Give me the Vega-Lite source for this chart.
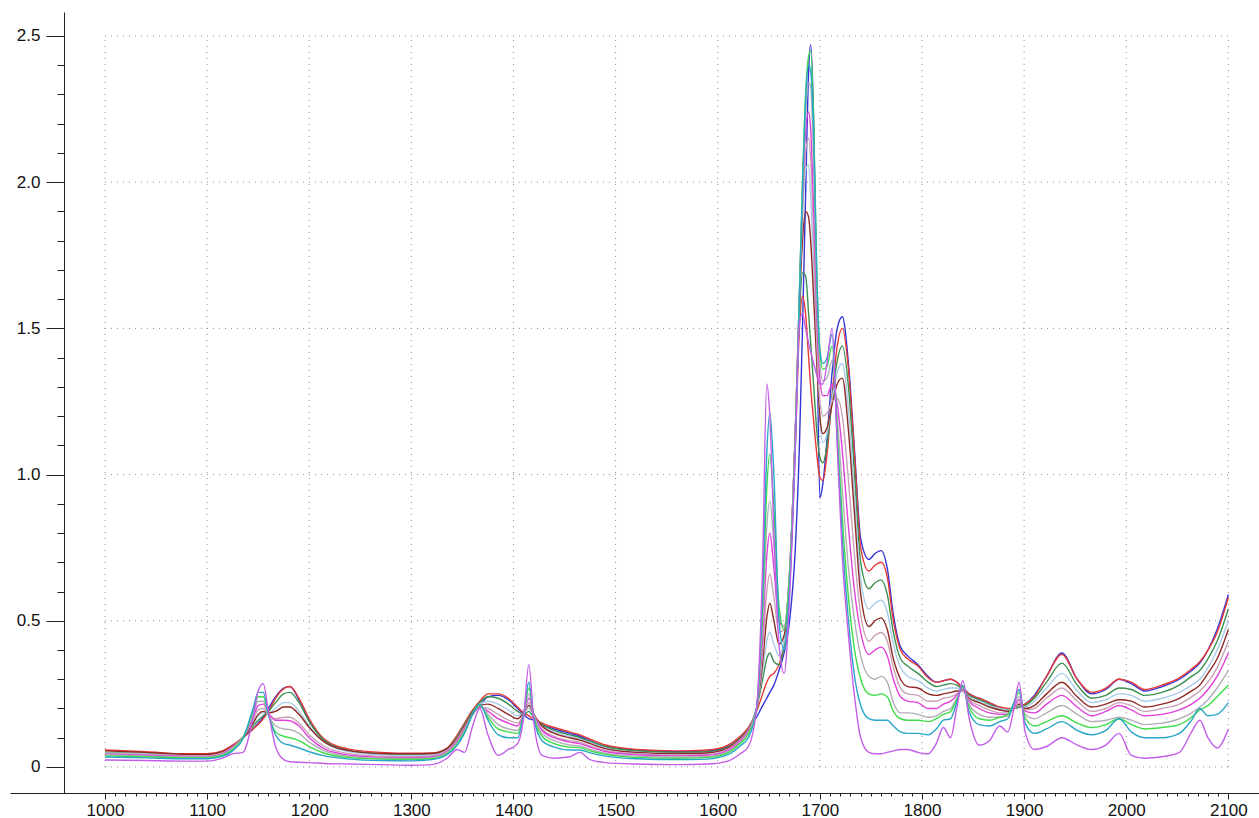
{
"$schema":"https://vega.github.io/schema/vega-lite/v6.json",
"width":1249,"height":781,"autosize":"none",
"padding":{"left":10,"top":12,"right":0,"bottom":25},
"background":"white",
"config":{"view":{"stroke":null},"axis":{"labelFont":"Liberation Sans","labelFontSize":17,"labelColor":"#111","tickColor":"#222","domainColor":"#222","domainWidth":1,"tickWidth":1,"grid":false}},
"resolve":{"axis":{"x":"independent","y":"independent"}},
"layer":[
{"data":{"values":[{"gx":1000},{"gx":1100},{"gx":1200},{"gx":1300},{"gx":1400},{"gx":1500},{"gx":1600},{"gx":1700},{"gx":1800},{"gx":1900},{"gx":2000},{"gx":2100}]},
"mark":{"type":"rule","stroke":"#8a8a8a","strokeDash":[1,5],"strokeWidth":1},
"encoding":{
"x":{"field":"gx","type":"quantitative","scale":{"domain":[907,2130],"nice":false,"zero":false},"axis":{"orient":"bottom","values":[1000,1010,1020,1030,1040,1050,1060,1070,1080,1090,1100,1110,1120,1130,1140,1150,1160,1170,1180,1190,1200,1210,1220,1230,1240,1250,1260,1270,1280,1290,1300,1310,1320,1330,1340,1350,1360,1370,1380,1390,1400,1410,1420,1430,1440,1450,1460,1470,1480,1490,1500,1510,1520,1530,1540,1550,1560,1570,1580,1590,1600,1610,1620,1630,1640,1650,1660,1670,1680,1690,1700,1710,1720,1730,1740,1750,1760,1770,1780,1790,1800,1810,1820,1830,1840,1850,1860,1870,1880,1890,1900,1910,1920,1930,1940,1950,1960,1970,1980,1990,2000,2010,2020,2030,2040,2050,2060,2070,2080,2090,2100],"labels":false,"domain":false,"tickSize":3,"title":null}},
"y":{"datum":0,"type":"quantitative","scale":{"domain":[-0.089,2.582],"nice":false,"zero":false},"axis":null},
"y2":{"datum":2.5}}},
{"data":{"values":[{"gy":0},{"gy":0.5},{"gy":1},{"gy":1.5},{"gy":2},{"gy":2.5}]},
"mark":{"type":"rule","stroke":"#8a8a8a","strokeDash":[1,5],"strokeWidth":1},
"encoding":{
"y":{"field":"gy","type":"quantitative","scale":{"domain":[-0.089,2.582],"nice":false,"zero":false},"axis":{"orient":"left","offset":-54,"values":[0,0.1,0.2,0.3,0.4,0.5,0.6,0.7,0.8,0.9,1,1.1,1.2,1.3,1.4,1.5,1.6,1.7,1.8,1.9,2,2.1,2.2,2.3,2.4,2.5],"labels":false,"domain":false,"tickSize":7,"title":null}},
"x":{"datum":1000,"type":"quantitative","scale":{"domain":[907,2130],"nice":false,"zero":false},"axis":null},
"x2":{"datum":2100}}},
{"data":{"values":[
{"x":1000,"N":0.045,"R":0.058,"DG":0.05,"LB":0.048,"BR":0.055,"PG":0.046,"M":0.044,"GR":0.042,"G":0.038,"T":0.034,"V":0.024},
{"x":1040,"N":0.04,"R":0.052,"DG":0.046,"LB":0.045,"BR":0.05,"PG":0.043,"M":0.04,"GR":0.038,"G":0.035,"T":0.031,"V":0.022},
{"x":1080,"N":0.035,"R":0.045,"DG":0.04,"LB":0.04,"BR":0.043,"PG":0.038,"M":0.036,"GR":0.034,"G":0.031,"T":0.028,"V":0.02},
{"x":1100,"N":0.035,"R":0.045,"DG":0.04,"LB":0.04,"BR":0.043,"PG":0.038,"M":0.036,"GR":0.034,"G":0.031,"T":0.028,"V":0.02},
{"x":1115,"N":0.05,"R":0.055,"DG":0.05,"LB":0.05,"BR":0.052,"PG":0.048,"M":0.045,"GR":0.043,"G":0.04,"T":0.036,"V":0.03},
{"x":1125,"N":0.07,"R":0.075,"DG":0.07,"LB":0.07,"BR":0.072,"PG":0.07,"M":0.068,"GR":0.065,"G":0.06,"T":0.055,"V":0.045},
{"x":1135,"N":0.1,"R":0.1,"DG":0.1,"LB":0.1,"BR":0.1,"PG":0.1,"M":0.1,"GR":0.1,"G":0.1,"T":0.095,"V":0.05},
{"x":1145,"N":0.13,"R":0.13,"DG":0.14,"LB":0.15,"BR":0.15,"PG":0.16,"M":0.17,"GR":0.18,"G":0.19,"T":0.2,"V":0.17},
{"x":1150,"N":0.15,"R":0.145,"DG":0.16,"LB":0.175,"BR":0.18,"PG":0.195,"M":0.21,"GR":0.225,"G":0.24,"T":0.255,"V":0.26},
{"x":1155,"N":0.17,"R":0.165,"DG":0.175,"LB":0.185,"BR":0.19,"PG":0.2,"M":0.215,"GR":0.225,"G":0.24,"T":0.255,"V":0.285},
{"x":1160,"N":0.2,"R":0.19,"DG":0.19,"LB":0.185,"BR":0.185,"PG":0.18,"M":0.185,"GR":0.18,"G":0.18,"T":0.18,"V":0.19},
{"x":1167,"N":0.24,"R":0.235,"DG":0.22,"LB":0.2,"BR":0.19,"PG":0.165,"M":0.16,"GR":0.14,"G":0.12,"T":0.11,"V":0.07},
{"x":1175,"N":0.27,"R":0.268,"DG":0.25,"LB":0.22,"BR":0.205,"PG":0.17,"M":0.16,"GR":0.13,"G":0.105,"T":0.08,"V":0.025},
{"x":1181,"N":0.275,"R":0.275,"DG":0.255,"LB":0.22,"BR":0.205,"PG":0.17,"M":0.158,"GR":0.128,"G":0.1,"T":0.075,"V":0.018},
{"x":1190,"N":0.23,"R":0.235,"DG":0.22,"LB":0.19,"BR":0.18,"PG":0.15,"M":0.14,"GR":0.115,"G":0.09,"T":0.065,"V":0.016},
{"x":1200,"N":0.16,"R":0.165,"DG":0.155,"LB":0.14,"BR":0.135,"PG":0.11,"M":0.1,"GR":0.085,"G":0.07,"T":0.052,"V":0.015},
{"x":1215,"N":0.09,"R":0.095,"DG":0.09,"LB":0.085,"BR":0.085,"PG":0.07,"M":0.062,"GR":0.055,"G":0.047,"T":0.038,"V":0.012},
{"x":1240,"N":0.055,"R":0.06,"DG":0.055,"LB":0.052,"BR":0.055,"PG":0.045,"M":0.04,"GR":0.036,"G":0.032,"T":0.027,"V":0.01},
{"x":1270,"N":0.045,"R":0.05,"DG":0.045,"LB":0.042,"BR":0.046,"PG":0.037,"M":0.033,"GR":0.03,"G":0.027,"T":0.022,"V":0.008},
{"x":1300,"N":0.042,"R":0.047,"DG":0.043,"LB":0.04,"BR":0.045,"PG":0.035,"M":0.032,"GR":0.029,"G":0.026,"T":0.021,"V":0.006},
{"x":1320,"N":0.045,"R":0.048,"DG":0.045,"LB":0.042,"BR":0.046,"PG":0.038,"M":0.035,"GR":0.032,"G":0.029,"T":0.025,"V":0.008},
{"x":1335,"N":0.06,"R":0.065,"DG":0.062,"LB":0.06,"BR":0.063,"PG":0.056,"M":0.053,"GR":0.05,"G":0.046,"T":0.042,"V":0.03},
{"x":1345,"N":0.1,"R":0.11,"DG":0.105,"LB":0.1,"BR":0.1,"PG":0.095,"M":0.09,"GR":0.085,"G":0.08,"T":0.075,"V":0.06},
{"x":1352,"N":0.14,"R":0.15,"DG":0.145,"LB":0.14,"BR":0.14,"PG":0.135,"M":0.13,"GR":0.125,"G":0.12,"T":0.115,"V":0.05},
{"x":1360,"N":0.18,"R":0.195,"DG":0.19,"LB":0.185,"BR":0.185,"PG":0.18,"M":0.18,"GR":0.18,"G":0.18,"T":0.18,"V":0.14},
{"x":1367,"N":0.21,"R":0.225,"DG":0.22,"LB":0.215,"BR":0.21,"PG":0.205,"M":0.205,"GR":0.21,"G":0.21,"T":0.215,"V":0.2},
{"x":1375,"N":0.24,"R":0.25,"DG":0.24,"LB":0.225,"BR":0.215,"PG":0.2,"M":0.19,"GR":0.18,"G":0.17,"T":0.16,"V":0.11},
{"x":1385,"N":0.245,"R":0.25,"DG":0.235,"LB":0.215,"BR":0.2,"PG":0.18,"M":0.165,"GR":0.145,"G":0.13,"T":0.11,"V":0.04},
{"x":1395,"N":0.23,"R":0.235,"DG":0.215,"LB":0.195,"BR":0.18,"PG":0.16,"M":0.15,"GR":0.13,"G":0.12,"T":0.1,"V":0.06},
{"x":1404,"N":0.2,"R":0.205,"DG":0.19,"LB":0.175,"BR":0.165,"PG":0.15,"M":0.14,"GR":0.125,"G":0.115,"T":0.1,"V":0.08},
{"x":1410,"N":0.18,"R":0.185,"DG":0.18,"LB":0.185,"BR":0.185,"PG":0.18,"M":0.18,"GR":0.18,"G":0.18,"T":0.18,"V":0.17},
{"x":1415,"N":0.165,"R":0.175,"DG":0.19,"LB":0.2,"BR":0.21,"PG":0.22,"M":0.235,"GR":0.25,"G":0.27,"T":0.29,"V":0.35},
{"x":1420,"N":0.16,"R":0.165,"DG":0.17,"LB":0.175,"BR":0.18,"PG":0.18,"M":0.18,"GR":0.175,"G":0.17,"T":0.165,"V":0.15},
{"x":1428,"N":0.145,"R":0.15,"DG":0.145,"LB":0.14,"BR":0.14,"PG":0.13,"M":0.125,"GR":0.115,"G":0.105,"T":0.09,"V":0.04},
{"x":1440,"N":0.13,"R":0.135,"DG":0.125,"LB":0.12,"BR":0.115,"PG":0.105,"M":0.1,"GR":0.09,"G":0.08,"T":0.068,"V":0.03},
{"x":1455,"N":0.115,"R":0.12,"DG":0.11,"LB":0.105,"BR":0.1,"PG":0.09,"M":0.085,"GR":0.075,"G":0.068,"T":0.058,"V":0.035},
{"x":1465,"N":0.105,"R":0.11,"DG":0.1,"LB":0.095,"BR":0.092,"PG":0.085,"M":0.08,"GR":0.072,"G":0.066,"T":0.058,"V":0.05},
{"x":1475,"N":0.09,"R":0.095,"DG":0.088,"LB":0.083,"BR":0.08,"PG":0.072,"M":0.068,"GR":0.06,"G":0.055,"T":0.048,"V":0.025},
{"x":1490,"N":0.07,"R":0.075,"DG":0.07,"LB":0.065,"BR":0.063,"PG":0.057,"M":0.053,"GR":0.047,"G":0.043,"T":0.037,"V":0.015},
{"x":1520,"N":0.058,"R":0.06,"DG":0.055,"LB":0.05,"BR":0.05,"PG":0.045,"M":0.042,"GR":0.037,"G":0.033,"T":0.028,"V":0.01},
{"x":1560,"N":0.052,"R":0.055,"DG":0.05,"LB":0.046,"BR":0.046,"PG":0.041,"M":0.038,"GR":0.034,"G":0.03,"T":0.025,"V":0.008},
{"x":1590,"N":0.055,"R":0.058,"DG":0.052,"LB":0.048,"BR":0.048,"PG":0.043,"M":0.04,"GR":0.036,"G":0.032,"T":0.027,"V":0.01},
{"x":1610,"N":0.07,"R":0.075,"DG":0.068,"LB":0.065,"BR":0.065,"PG":0.06,"M":0.057,"GR":0.052,"G":0.048,"T":0.042,"V":0.02},
{"x":1622,"N":0.1,"R":0.105,"DG":0.1,"LB":0.098,"BR":0.098,"PG":0.094,"M":0.09,"GR":0.085,"G":0.08,"T":0.072,"V":0.045},
{"x":1630,"N":0.13,"R":0.135,"DG":0.13,"LB":0.128,"BR":0.128,"PG":0.125,"M":0.122,"GR":0.118,"G":0.112,"T":0.1,"V":0.07},
{"x":1638,"N":0.17,"R":0.19,"DG":0.2,"LB":0.2,"BR":0.2,"PG":0.2,"M":0.2,"GR":0.2,"G":0.2,"T":0.2,"V":0.2},
{"x":1644,"N":0.21,"R":0.25,"DG":0.3,"LB":0.33,"BR":0.36,"PG":0.4,"M":0.45,"GR":0.5,"G":0.55,"T":0.6,"V":0.7},
{"x":1648,"N":0.235,"R":0.29,"DG":0.37,"LB":0.43,"BR":0.51,"PG":0.6,"M":0.72,"GR":0.82,"G":0.95,"T":1.07,"V":1.31},
{"x":1651,"N":0.255,"R":0.31,"DG":0.39,"LB":0.46,"BR":0.56,"PG":0.66,"M":0.8,"GR":0.91,"G":1.07,"T":1.21,"V":1.2},
{"x":1655,"N":0.28,"R":0.32,"DG":0.36,"LB":0.42,"BR":0.5,"PG":0.58,"M":0.68,"GR":0.76,"G":0.88,"T":1.0,"V":0.8},
{"x":1660,"N":0.33,"R":0.35,"DG":0.35,"LB":0.38,"BR":0.42,"PG":0.46,"M":0.5,"GR":0.52,"G":0.55,"T":0.5,"V":0.42},
{"x":1665,"N":0.39,"R":0.42,"DG":0.42,"LB":0.43,"BR":0.45,"PG":0.47,"M":0.48,"GR":0.48,"G":0.47,"T":0.4,"V":0.32},
{"x":1670,"N":0.49,"R":0.6,"DG":0.62,"LB":0.62,"BR":0.63,"PG":0.64,"M":0.65,"GR":0.65,"G":0.64,"T":0.6,"V":0.55},
{"x":1676,"N":0.75,"R":1.1,"DG":1.15,"LB":1.15,"BR":1.15,"PG":1.15,"M":1.15,"GR":1.15,"G":1.13,"T":1.1,"V":1.1},
{"x":1680,"N":1.1,"R":1.5,"DG":1.55,"LB":1.6,"BR":1.58,"PG":1.6,"M":1.62,"GR":1.63,"G":1.62,"T":1.6,"V":1.52},
{"x":1683,"N":1.5,"R":1.61,"DG":1.69,"LB":1.88,"BR":1.8,"PG":1.9,"M":1.95,"GR":1.98,"G":2.0,"T":1.98,"V":1.55},
{"x":1686,"N":1.95,"R":1.55,"DG":1.68,"LB":2.04,"BR":1.9,"PG":2.1,"M":2.17,"GR":2.23,"G":2.3,"T":2.28,"V":1.5},
{"x":1689,"N":2.38,"R":1.4,"DG":1.55,"LB":2.06,"BR":1.88,"PG":2.15,"M":2.24,"GR":2.34,"G":2.43,"T":2.4,"V":1.45},
{"x":1691,"N":2.47,"R":1.3,"DG":1.45,"LB":1.95,"BR":1.8,"PG":2.08,"M":2.18,"GR":2.33,"G":2.45,"T":2.38,"V":1.42},
{"x":1694,"N":2.2,"R":1.18,"DG":1.3,"LB":1.7,"BR":1.6,"PG":1.8,"M":1.9,"GR":2.05,"G":2.2,"T":2.15,"V":1.38},
{"x":1697,"N":1.55,"R":1.07,"DG":1.15,"LB":1.4,"BR":1.38,"PG":1.45,"M":1.55,"GR":1.62,"G":1.7,"T":1.68,"V":1.34},
{"x":1700,"N":0.92,"R":0.99,"DG":1.06,"LB":1.18,"BR":1.2,"PG":1.25,"M":1.33,"GR":1.38,"G":1.42,"T":1.43,"V":1.31},
{"x":1703,"N":0.97,"R":0.98,"DG":1.04,"LB":1.11,"BR":1.14,"PG":1.2,"M":1.27,"GR":1.32,"G":1.36,"T":1.38,"V":1.31},
{"x":1707,"N":1.12,"R":1.07,"DG":1.1,"LB":1.14,"BR":1.16,"PG":1.21,"M":1.27,"GR":1.33,"G":1.37,"T":1.4,"V":1.38},
{"x":1712,"N":1.35,"R":1.27,"DG":1.26,"LB":1.26,"BR":1.24,"PG":1.25,"M":1.31,"GR":1.39,"G":1.44,"T":1.48,"V":1.5},
{"x":1717,"N":1.5,"R":1.44,"DG":1.39,"LB":1.35,"BR":1.31,"PG":1.26,"M":1.24,"GR":1.2,"G":1.15,"T":1.12,"V":1.1},
{"x":1722,"N":1.54,"R":1.5,"DG":1.44,"LB":1.38,"BR":1.33,"PG":1.2,"M":1.08,"GR":0.95,"G":0.85,"T":0.78,"V":0.72},
{"x":1728,"N":1.38,"R":1.36,"DG":1.3,"LB":1.22,"BR":1.15,"PG":0.98,"M":0.82,"GR":0.68,"G":0.58,"T":0.5,"V":0.45},
{"x":1734,"N":1.08,"R":1.06,"DG":1.0,"LB":0.92,"BR":0.86,"PG":0.72,"M":0.6,"GR":0.5,"G":0.4,"T":0.31,"V":0.24},
{"x":1740,"N":0.78,"R":0.75,"DG":0.7,"LB":0.64,"BR":0.59,"PG":0.52,"M":0.46,"GR":0.38,"G":0.3,"T":0.21,"V":0.1},
{"x":1748,"N":0.71,"R":0.67,"DG":0.61,"LB":0.54,"BR":0.48,"PG":0.43,"M":0.385,"GR":0.31,"G":0.25,"T":0.165,"V":0.05},
{"x":1754,"N":0.73,"R":0.69,"DG":0.63,"LB":0.56,"BR":0.5,"PG":0.45,"M":0.4,"GR":0.3,"G":0.245,"T":0.16,"V":0.045},
{"x":1760,"N":0.74,"R":0.7,"DG":0.64,"LB":0.57,"BR":0.51,"PG":0.46,"M":0.41,"GR":0.31,"G":0.25,"T":0.16,"V":0.045},
{"x":1766,"N":0.68,"R":0.65,"DG":0.59,"LB":0.53,"BR":0.47,"PG":0.43,"M":0.38,"GR":0.29,"G":0.24,"T":0.16,"V":0.05},
{"x":1772,"N":0.52,"R":0.5,"DG":0.46,"LB":0.42,"BR":0.37,"PG":0.34,"M":0.3,"GR":0.22,"G":0.19,"T":0.14,"V":0.055},
{"x":1779,"N":0.41,"R":0.4,"DG":0.37,"LB":0.34,"BR":0.3,"PG":0.27,"M":0.24,"GR":0.185,"G":0.165,"T":0.12,"V":0.06},
{"x":1786,"N":0.38,"R":0.37,"DG":0.345,"LB":0.31,"BR":0.275,"PG":0.25,"M":0.225,"GR":0.185,"G":0.16,"T":0.115,"V":0.06},
{"x":1796,"N":0.35,"R":0.345,"DG":0.32,"LB":0.295,"BR":0.27,"PG":0.245,"M":0.22,"GR":0.18,"G":0.16,"T":0.115,"V":0.05},
{"x":1806,"N":0.31,"R":0.305,"DG":0.29,"LB":0.27,"BR":0.25,"PG":0.225,"M":0.2,"GR":0.17,"G":0.155,"T":0.11,"V":0.045},
{"x":1814,"N":0.29,"R":0.29,"DG":0.275,"LB":0.26,"BR":0.245,"PG":0.225,"M":0.2,"GR":0.175,"G":0.165,"T":0.13,"V":0.08},
{"x":1821,"N":0.295,"R":0.295,"DG":0.28,"LB":0.265,"BR":0.25,"PG":0.235,"M":0.215,"GR":0.19,"G":0.18,"T":0.16,"V":0.135},
{"x":1828,"N":0.3,"R":0.3,"DG":0.285,"LB":0.27,"BR":0.255,"PG":0.24,"M":0.225,"GR":0.2,"G":0.19,"T":0.165,"V":0.1},
{"x":1834,"N":0.29,"R":0.29,"DG":0.28,"LB":0.27,"BR":0.26,"PG":0.25,"M":0.245,"GR":0.235,"G":0.23,"T":0.22,"V":0.2},
{"x":1840,"N":0.27,"R":0.27,"DG":0.265,"LB":0.26,"BR":0.26,"PG":0.26,"M":0.265,"GR":0.27,"G":0.275,"T":0.28,"V":0.295},
{"x":1846,"N":0.25,"R":0.25,"DG":0.245,"LB":0.24,"BR":0.235,"PG":0.23,"M":0.225,"GR":0.215,"G":0.205,"T":0.19,"V":0.17},
{"x":1856,"N":0.235,"R":0.235,"DG":0.23,"LB":0.225,"BR":0.22,"PG":0.21,"M":0.2,"GR":0.18,"G":0.165,"T":0.145,"V":0.075},
{"x":1866,"N":0.22,"R":0.22,"DG":0.215,"LB":0.21,"BR":0.205,"PG":0.195,"M":0.185,"GR":0.17,"G":0.16,"T":0.14,"V":0.09},
{"x":1876,"N":0.2,"R":0.205,"DG":0.2,"LB":0.2,"BR":0.195,"PG":0.185,"M":0.18,"GR":0.17,"G":0.17,"T":0.155,"V":0.14},
{"x":1884,"N":0.195,"R":0.2,"DG":0.195,"LB":0.195,"BR":0.19,"PG":0.185,"M":0.18,"GR":0.175,"G":0.18,"T":0.165,"V":0.12},
{"x":1890,"N":0.2,"R":0.2,"DG":0.2,"LB":0.2,"BR":0.2,"PG":0.2,"M":0.205,"GR":0.21,"G":0.22,"T":0.22,"V":0.2},
{"x":1895,"N":0.205,"R":0.205,"DG":0.205,"LB":0.21,"BR":0.215,"PG":0.22,"M":0.23,"GR":0.24,"G":0.255,"T":0.265,"V":0.29},
{"x":1901,"N":0.215,"R":0.215,"DG":0.21,"LB":0.205,"BR":0.2,"PG":0.195,"M":0.19,"GR":0.18,"G":0.17,"T":0.15,"V":0.12},
{"x":1910,"N":0.245,"R":0.24,"DG":0.235,"LB":0.225,"BR":0.21,"PG":0.2,"M":0.185,"GR":0.165,"G":0.14,"T":0.115,"V":0.06},
{"x":1922,"N":0.31,"R":0.31,"DG":0.29,"LB":0.27,"BR":0.25,"PG":0.235,"M":0.215,"GR":0.185,"G":0.155,"T":0.13,"V":0.07},
{"x":1937,"N":0.39,"R":0.385,"DG":0.355,"LB":0.32,"BR":0.29,"PG":0.27,"M":0.245,"GR":0.21,"G":0.175,"T":0.155,"V":0.1},
{"x":1952,"N":0.3,"R":0.3,"DG":0.28,"LB":0.26,"BR":0.24,"PG":0.225,"M":0.205,"GR":0.18,"G":0.15,"T":0.125,"V":0.075},
{"x":1966,"N":0.25,"R":0.255,"DG":0.235,"LB":0.22,"BR":0.205,"PG":0.19,"M":0.175,"GR":0.155,"G":0.135,"T":0.11,"V":0.06},
{"x":1980,"N":0.265,"R":0.27,"DG":0.245,"LB":0.23,"BR":0.215,"PG":0.2,"M":0.19,"GR":0.16,"G":0.145,"T":0.125,"V":0.075},
{"x":1993,"N":0.3,"R":0.3,"DG":0.27,"LB":0.25,"BR":0.23,"PG":0.22,"M":0.21,"GR":0.17,"G":0.165,"T":0.165,"V":0.115},
{"x":2005,"N":0.285,"R":0.29,"DG":0.265,"LB":0.245,"BR":0.225,"PG":0.21,"M":0.195,"GR":0.16,"G":0.145,"T":0.12,"V":0.04},
{"x":2018,"N":0.26,"R":0.265,"DG":0.245,"LB":0.225,"BR":0.205,"PG":0.19,"M":0.175,"GR":0.145,"G":0.13,"T":0.1,"V":0.03},
{"x":2035,"N":0.275,"R":0.28,"DG":0.255,"LB":0.235,"BR":0.215,"PG":0.2,"M":0.18,"GR":0.15,"G":0.135,"T":0.1,"V":0.035},
{"x":2052,"N":0.3,"R":0.305,"DG":0.28,"LB":0.255,"BR":0.235,"PG":0.215,"M":0.195,"GR":0.165,"G":0.145,"T":0.115,"V":0.05},
{"x":2064,"N":0.33,"R":0.335,"DG":0.31,"LB":0.28,"BR":0.26,"PG":0.24,"M":0.215,"GR":0.185,"G":0.17,"T":0.16,"V":0.12},
{"x":2072,"N":0.355,"R":0.36,"DG":0.33,"LB":0.3,"BR":0.28,"PG":0.26,"M":0.235,"GR":0.205,"G":0.195,"T":0.2,"V":0.16},
{"x":2080,"N":0.4,"R":0.4,"DG":0.37,"LB":0.34,"BR":0.32,"PG":0.29,"M":0.265,"GR":0.23,"G":0.21,"T":0.175,"V":0.1},
{"x":2089,"N":0.47,"R":0.46,"DG":0.43,"LB":0.4,"BR":0.37,"PG":0.34,"M":0.31,"GR":0.27,"G":0.24,"T":0.18,"V":0.065},
{"x":2100,"N":0.59,"R":0.58,"DG":0.54,"LB":0.5,"BR":0.47,"PG":0.43,"M":0.39,"GR":0.33,"G":0.28,"T":0.22,"V":0.13}
]},
"transform":[{"fold":["N","R","DG","LB","BR","PG","M","GR","G","T","V"],"as":["s","v"]}],
"mark":{"type":"line","interpolate":"monotone","strokeWidth":1.4},
"encoding":{
"x":{"field":"x","type":"quantitative","scale":{"domain":[907,2130],"nice":false,"zero":false},"axis":{"orient":"bottom","values":[1000,1100,1200,1300,1400,1500,1600,1700,1800,1900,2000,2100],"format":"d","tickSize":6,"labelPadding":3,"labelFontSize":17,"labelFont":"Liberation Sans","title":null}},
"y":{"field":"v","type":"quantitative","scale":{"domain":[-0.089,2.582],"nice":false,"zero":false},"axis":{"orient":"left","offset":-54,"values":[0,0.5,1,1.5,2,2.5],"labelExpr":"datum.value == 0 ? '0' : format(datum.value, '.1f')","tickSize":18,"labelPadding":6,"labelFontSize":17,"labelFont":"Liberation Sans","title":null}},
"color":{"field":"s","type":"nominal","scale":{"domain":["N","R","DG","LB","BR","PG","M","GR","G","T","V"],"range":["#3434d6","#e53935","#3b8f50","#a9cbe8","#8e2a24","#c9a3b5","#e040dc","#b2adb8","#3fdc48","#2aa6c8","#c45ee8"]},"legend":null}}}
]
}
